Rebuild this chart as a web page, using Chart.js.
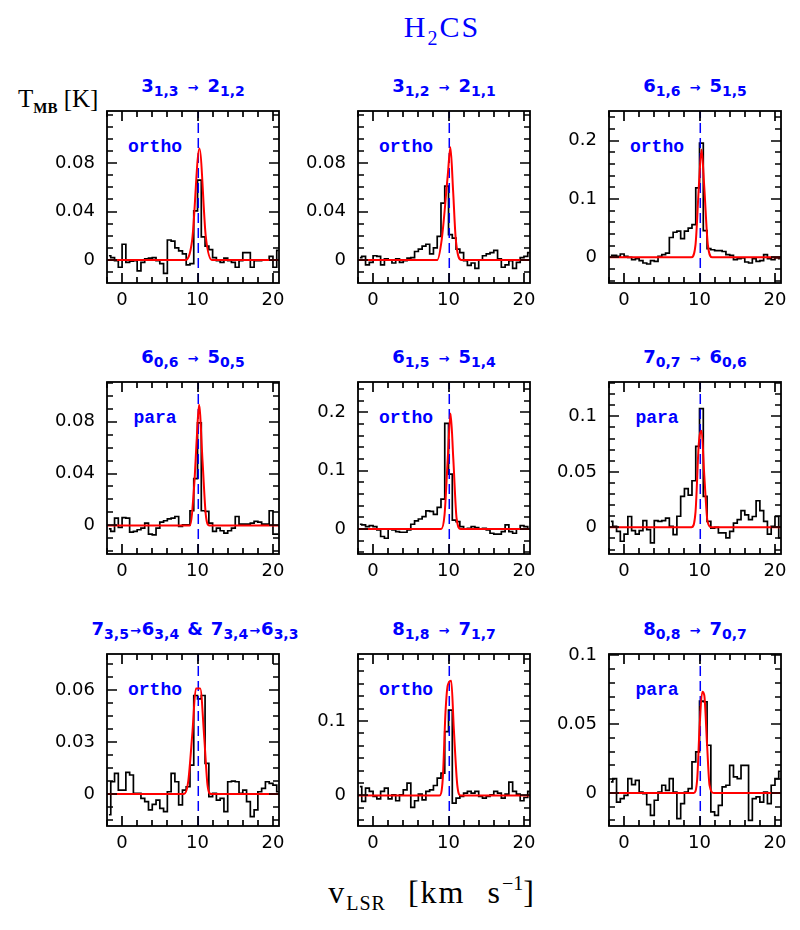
<!DOCTYPE html>
<html>
<head>
<meta charset="utf-8">
<script src="https://cdn.jsdelivr.net/npm/chart.js@4.4.0/dist/chart.umd.min.js"></script>
<style>
  body { margin: 0; background: #fff; }
  #page { position: relative; width: 800px; height: 930px; overflow: hidden; background: #fff; }
  canvas { position: absolute; }
  .txt { position: absolute; white-space: nowrap; line-height: 1; }
  .line { font-family: 'DejaVu Sans'; font-weight: bold; font-size: 18px; color: #0000ff; text-align: center; width: 300px; }
  .line .s { font-size: 14px; position: relative; top: 4px; }
  .line .a { font-size: 13px; margin: 0 9px; }
  .line .a2 { font-size: 13px; margin: 0 1px; }
  .line .amp { margin: 0 8px; }
  .tag { font-family: 'Liberation Mono'; font-weight: bold; font-size: 18px; color: #0000ff; text-align: center; width: 80px; }
  .serif { font-family: 'Liberation Serif'; color: #000; }
</style>
</head>
<body>
<div id="page">
  <div class="txt serif" style="left:342px; top:12px; width:200px; text-align:center; font-size:30px; color:#0000ff; letter-spacing:2px;">H<span style="font-size:20px; position:relative; top:8px;">2</span>CS</div>

  <div class="txt serif" style="left:18px; top:86px; font-size:25px;">T<span style="font-size:15px; font-weight:bold; position:relative; top:6px;">MB</span> [K]</div>

  <div class="txt line" style="left:43px; top:77px;">3<span class="s">1,3</span><span class="a">→</span>2<span class="s">1,2</span></div>
  <div class="txt line" style="left:294px; top:77px;">3<span class="s">1,2</span><span class="a">→</span>2<span class="s">1,1</span></div>
  <div class="txt line" style="left:545px; top:77px;">6<span class="s">1,6</span><span class="a">→</span>5<span class="s">1,5</span></div>
  <div class="txt line" style="left:43px; top:348px;">6<span class="s">0,6</span><span class="a">→</span>5<span class="s">0,5</span></div>
  <div class="txt line" style="left:294px; top:348px;">6<span class="s">1,5</span><span class="a">→</span>5<span class="s">1,4</span></div>
  <div class="txt line" style="left:545px; top:348px;">7<span class="s">0,7</span><span class="a">→</span>6<span class="s">0,6</span></div>
  <div class="txt line" style="left:45px; top:620px;">7<span class="s">3,5</span><span class="a2">→</span>6<span class="s">3,4</span><span class="amp">&amp;</span>7<span class="s">3,4</span><span class="a2">→</span>6<span class="s">3,3</span></div>
  <div class="txt line" style="left:294px; top:620px;">8<span class="s">1,8</span><span class="a">→</span>7<span class="s">1,7</span></div>
  <div class="txt line" style="left:545px; top:620px;">8<span class="s">0,8</span><span class="a">→</span>7<span class="s">0,7</span></div>

  <div class="txt tag" style="left:115px; top:138px;">ortho</div>
  <div class="txt tag" style="left:366px; top:138px;">ortho</div>
  <div class="txt tag" style="left:617px; top:138px;">ortho</div>
  <div class="txt tag" style="left:115px; top:409px;">para</div>
  <div class="txt tag" style="left:366px; top:409px;">ortho</div>
  <div class="txt tag" style="left:617px; top:409px;">para</div>
  <div class="txt tag" style="left:115px; top:681px;">ortho</div>
  <div class="txt tag" style="left:366px; top:681px;">ortho</div>
  <div class="txt tag" style="left:617px; top:681px;">para</div>

  <div class="txt serif" style="left:232px; top:876px; width:400px; text-align:center; font-size:32px; letter-spacing:2px; word-spacing:12px;">v<span style="font-size:20px; letter-spacing:1px; position:relative; top:7px;">LSR</span> [km s<span style="font-size:20px; letter-spacing:0; position:relative; top:-13px;">−1</span>]</div>
</div>

<script>
// channel centres (km/s), shared by all spectra
const vel = [-1.75, -1.25, -0.75, -0.25, 0.25, 0.75, 1.25, 1.75, 2.25, 2.75,
    3.25, 3.75, 4.25, 4.75, 5.25, 5.75, 6.25, 6.75, 7.25, 7.75,
    8.25, 8.75, 9.25, 9.75, 10.25, 10.75, 11.25, 11.75, 12.25, 12.75,
    13.25, 13.75, 14.25, 14.75, 15.25, 15.75, 16.25, 16.75, 17.25, 17.75,
    18.25, 18.75, 19.25, 19.75, 20.25, 20.75];

const vlsr = 10.1;

// observed T_MB (K)
const tmb1 = [0.0035, 0.002, -0.0005, -0.006, 0.013, -0.002, -0.001, -0.0005, -0.009, -0.002,
    0.001, 0.0015, 0.002, -0.0005, -0.003, -0.011, 0.0165, 0.0155, 0.010, 0.0075,
    0.005, -0.004, -0.003, 0.0405, 0.066, 0.019, 0.0115, 0.0085, 0.002, -0.0005,
    -0.002, 0.0015, -0.0005, -0.002, -0.006, -0.0005, 0.006, 0.006, -0.006, -0.0005,
    -0.0005, 0, 0, 0.003, -0.006, 0.008];
const tmb2 = [0.002, 0.003, -0.004, -0.002, 0.0035, 0.003, -0.004, 0.001, 0, -0.0025,
    0.001, -0.002, -0.0005, 0.0015, 0.002, 0.007, 0.009, 0.0115, 0.013, 0.005,
    0.010, 0.0195, 0.047, 0.061, 0.021, 0.018, 0.009, 0.006, -0.0005, -0.0045,
    -0.0025, -0.007, 0, 0.0035, 0.005, 0.006, 0.008, 0.001, -0.006, -0.004,
    -0.0005, -0.007, -0.002, 0.002, 0.003, 0.006];
const tmb3 = [0.0034, 0.0034, 0.0017, 0.0057, 0.0017, 0, -0.004, -0.0023, -0.0057, -0.0097,
    -0.0114, -0.0057, -0.0069, 0.0017, 0.0046, 0.0074, 0.034, 0.043, 0.045, 0.032,
    0.045, 0.050, 0.056, 0.119, 0.196, 0.046, 0.015, 0.013, 0.0114, 0.0114,
    0.010, 0.0046, 0.0034, -0.004, -0.0023, -0.0011, -0.008, -0.0097, -0.0023, -0.0069,
    -0.0057, 0.0046, -0.0023, -0.004, -0.0011, -0.0023];
const tmb4 = [-0.0026, -0.0046, 0.0056, -0.0015, 0.006, 0.0056, -0.0051, -0.0046, -0.0033, -0.002,
    0.0018, -0.0067, -0.0072, -0.002, 0.0026, 0.0036, 0.0051, 0.0056, 0.0069, -0.0008,
    0.0005, 0.0005, 0.0113, 0.036, 0.079, 0.0113, 0.0108, 0.0018, -0.0046, -0.002,
    -0.0041, -0.0059, -0.0041, -0.002, 0.0069, 0.001, 0.001, 0.001, 0.0018, 0.0031,
    0.0026, 0.001, 0.001, 0.0113, -0.0067, -0.0067];
const tmb5 = [0.008, 0.0069, 0.004, 0.0057, 0.004, -0.0017, -0.013, -0.016, 0, -0.0017,
    -0.0046, -0.0057, -0.0057, -0.0017, 0.008, 0.0137, 0.017, 0.021, 0.031, 0.030,
    0.025, 0.037, 0.051, 0.181, 0.094, 0.015, 0.0126, 0.004, 0, 0.001,
    0.004, 0.0023, 0, 0.001, -0.0017, -0.0074, -0.009, -0.009, -0.0046, 0.0069,
    -0.0046, -0.0074, 0, 0.0057, 0.004, 0];
const tmb6 = [0.0054, 0.0009, -0.0036, -0.0125, -0.006, 0.0098, -0.003, -0.006, -0.003, 0.006,
    -0.002, -0.014, 0.006, 0.0054, 0.006, 0.0084, 0.0009, -0.0066, 0.01, 0.028,
    0.035, 0.029, 0.042, 0.073, 0.107, 0.028, 0.0054, -0.0006, 0, -0.005,
    -0.005, -0.0095, -0.0036, 0.0039, 0.0069, 0.015, 0.0113, 0.0069, 0.0098, 0.024,
    0.015, 0.0054, -0.006, 0.0009, 0.0098, -0.0095];
const tmb7 = [-0.012, 0.0071, 0.0119, 0.0023, 0.0023, 0.0125, 0.011, 0.0004, 0.0004, -0.0025,
    -0.0044, -0.0092, -0.006, -0.0035, -0.0083, -0.0102, 0.0013, 0.0119, 0.0071, -0.0063,
    0.0023, 0.0042, 0.0167, 0.057, 0.055, 0.057, 0.0177, -0.0015, 0.0004, -0.0035,
    -0.0025, -0.0102, 0.0071, 0.0075, 0.0071, 0.0004, 0.0023, -0.0044, -0.0131, -0.0092,
    0.0013, 0.0033, 0.0071, 0.0062, 0.0052, 0.0013];
const tmb8 = [0.012, -0.008, 0.0098, 0.0054, -0.0013, -0.0045, 0.0054, 0.0098, -0.0045, 0.0009,
    -0.0071, 0.0009, 0.0076, 0.0165, -0.016, -0.0071, 0.0018, -0.0058, 0.0054, 0.0076,
    0.0134, 0.0232, 0.030, 0.0857, 0.1147, -0.0103, -0.0036, -0.0013, 0.0031, 0.0054,
    0.0031, 0.0054, -0.0013, -0.0036, -0.0013, 0.0009, 0.0054, 0.0031, -0.0036, 0.0018,
    0.0179, 0.0054, 0.0018, -0.0071, -0.0027, 0.0054];
const tmb9 = [0.008, 0.0104, -0.0066, -0.0041, -0.0017, 0.0104, 0.006, 0.0092, 0.0007, -0.0005,
    -0.0085, -0.0163, -0.0053, 0.0007, 0.0056, 0.0019, 0.0104, 0.0007, -0.0187, -0.0078,
    0.0007, 0.0032, 0.0226, 0.0299, 0.0667, 0.0663, 0.0347, -0.0138, -0.0163, -0.009,
    0.0044, 0.0056, 0.0201, 0.0117, 0.0104, 0.0201, 0.0201, -0.0199, -0.0041, -0.0029,
    -0.0066, 0.0007, -0.0078, 0.0056, 0.0104, 0.0158];

// fitted profiles: [v, T]
const fit1 = [[-2, 0], [8.4, 0], [9.3, 0.017], [10.25, 0.092], [11.1, 0.019], [11.9, 0], [20.8, 0]];
const fit2 = [[-2, 0], [8.5, 0], [9.1, 0.017], [9.9, 0.07], [10.25, 0.093], [10.6, 0.058], [10.95, 0.018], [11.7, 0], [20.8, 0]];
const fit3 = [[-2, 0], [8.9, 0], [9.47, 0.022], [9.9, 0.119], [10.27, 0.185], [10.63, 0.12], [11.1, 0.022], [11.7, 0], [20.8, 0]];
const fit4 = [[-2, 0], [9.0, 0], [9.56, 0.031], [9.9, 0.067], [10.2, 0.093], [10.67, 0.049], [11.1, 0.008], [11.56, 0], [20.8, 0]];
const fit5 = [[-2, 0], [9.03, 0], [9.47, 0.024], [9.9, 0.121], [10.27, 0.198], [10.63, 0.121], [11.07, 0.018], [11.6, 0], [20.8, 0]];
const fit6 = [[-2, 0], [8.94, 0], [9.47, 0.014], [9.9, 0.075], [10.27, 0.087], [10.63, 0.047], [11.07, 0.005], [11.6, 0], [20.8, 0]];
const fit7 = [[-2, 0], [8.2, 0], [8.76, 0.007], [9.33, 0.036], [9.78, 0.061], [10.36, 0.061], [10.9, 0.032], [11.33, 0.005], [11.78, 0], [20.8, 0]];
const fit8 = [[-2, 0], [8.8, 0], [9.24, 0.023], [9.6, 0.112], [9.9, 0.148], [10.36, 0.154], [10.7, 0.09], [11.16, 0.014], [11.6, 0], [20.8, 0]];
const fit9 = [[-2, 0], [9.24, 0], [9.69, 0.01], [10.0, 0.047], [10.36, 0.0735], [10.63, 0.071], [11.0, 0.035], [11.33, 0.0056], [11.9, 0], [20.8, 0]];

// axis ranges and ticks
const xMin = -2, xMax = 20.8, xStep = 2;
const xLabels = [0, 10, 20];
const yMin = [-0.019, -0.019, -0.044, -0.022, -0.043, -0.024, -0.0185, -0.041, -0.024];
const yMax = [0.123, 0.123, 0.251, 0.1105, 0.252, 0.131, 0.081, 0.19, 0.101];
const yStep = [0.01, 0.01, 0.02, 0.01, 0.02, 0.01, 0.0075, 0.1 / 6, 0.01];
const yLabels = [[0, 0.04, 0.08], [0, 0.04, 0.08], [0, 0.1, 0.2],
    [0, 0.04, 0.08], [0, 0.1, 0.2], [0, 0.05, 0.1],
    [0, 0.03, 0.06], [0, 0.1], [0, 0.05, 0.1]];

const spectra = [tmb1, tmb2, tmb3, tmb4, tmb5, tmb6, tmb7, tmb8, tmb9];
const fits = [fit1, fit2, fit3, fit4, fit5, fit6, fit7, fit8, fit9];

// layout
const cols = [107, 358, 609];
const rows = [111, 382, 654];
const BOX = 172, YW = 70, XH = 35, PT = 12, PR = 12;

Chart.defaults.font.family = 'DejaVu Sans';
Chart.defaults.color = '#000';

function pickLabel(v, list) {
    const hit = list.find(l => Math.abs(l - v) < 1e-6);
    return hit === undefined ? '' : String(hit);
}

// frame with inward tick marks on all four sides
const frame = {
    id: 'frame',
    afterDatasetsDraw(chart) {
        const ctx = chart.ctx, a = chart.chartArea;
        const xs = chart.scales.x, ys = chart.scales.y;
        ctx.save();
        ctx.strokeStyle = '#000';
        ctx.lineWidth = 1.7;
        for (const t of xs.ticks) {
            const p = Math.round(xs.getPixelForValue(t.value));
            const len = t.label ? 10 : 6;
            ctx.beginPath();
            ctx.moveTo(p, a.bottom); ctx.lineTo(p, a.bottom - len);
            ctx.moveTo(p, a.top); ctx.lineTo(p, a.top + len);
            ctx.stroke();
        }
        for (const t of ys.ticks) {
            const p = Math.round(ys.getPixelForValue(t.value));
            const len = t.label ? 10 : 6;
            ctx.beginPath();
            ctx.moveTo(a.left, p); ctx.lineTo(a.left + len, p);
            ctx.moveTo(a.right, p); ctx.lineTo(a.right - len, p);
            ctx.stroke();
        }
        ctx.lineWidth = 1.8;
        ctx.strokeRect(a.left, a.top, a.right - a.left, a.bottom - a.top);
        ctx.restore();
    }
};

function makePanel(i) {
    const c = document.createElement('canvas');
    const w = YW + BOX + PR, h = PT + BOX + XH;
    c.width = w; c.height = h;
    c.style.left = (cols[i % 3] - YW) + 'px';
    c.style.top = (rows[Math.floor(i / 3)] - PT) + 'px';
    c.style.width = w + 'px'; c.style.height = h + 'px';
    document.getElementById('page').appendChild(c);

    new Chart(c, {
        type: 'line',
        data: {
            datasets: [
                {
                    data: fits[i].map(p => ({ x: p[0], y: p[1] })),
                    borderColor: '#ff0000',
                    borderWidth: 2,
                    cubicInterpolationMode: 'monotone',
                    pointRadius: 0
                },
                {
                    data: [{ x: vlsr, y: yMin[i] }, { x: vlsr, y: yMax[i] }],
                    borderColor: '#0000ff',
                    borderWidth: 1.5,
                    borderDash: [10, 5],
                    pointRadius: 0
                },
                {
                    data: vel.map((v, k) => ({ x: v, y: spectra[i][k] })),
                    borderColor: '#000',
                    borderWidth: 1.7,
                    stepped: 'middle',
                    pointRadius: 0
                }
            ]
        },
        options: {
            responsive: false,
            animation: false,
            devicePixelRatio: 1,
            events: [],
            layout: { padding: { top: PT, right: PR, left: 0, bottom: 0 } },
            plugins: { legend: { display: false }, tooltip: { enabled: false } },
            scales: {
                x: {
                    type: 'linear',
                    min: xMin, max: xMax,
                    afterFit: s => { s.height = XH; s.paddingLeft = 0; s.paddingRight = 0; },
                    grid: { display: false, drawTicks: false },
                    border: { display: false },
                    ticks: {
                        stepSize: xStep, autoSkip: false, includeBounds: false,
                        maxRotation: 0, padding: 7,
                        font: { size: 18 },
                        callback: v => pickLabel(v, xLabels)
                    }
                },
                y: {
                    type: 'linear',
                    min: yMin[i], max: yMax[i],
                    afterFit: s => { s.width = YW; s.paddingTop = 0; s.paddingBottom = 0; },
                    grid: { display: false, drawTicks: false },
                    border: { display: false },
                    ticks: {
                        stepSize: yStep[i], autoSkip: false, includeBounds: false,
                        maxTicksLimit: 1000, padding: 12,
                        font: { size: 18 },
                        callback: v => pickLabel(v, yLabels[i])
                    }
                }
            }
        },
        plugins: [frame]
    });
}

for (let i = 0; i < 9; i++) makePanel(i);
</script>
</body>
</html>
